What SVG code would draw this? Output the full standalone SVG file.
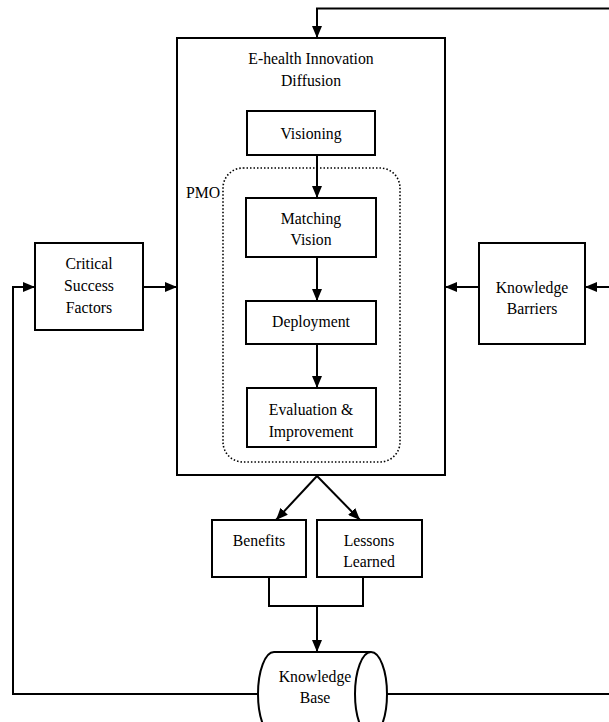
<svg xmlns="http://www.w3.org/2000/svg" width="609" height="722" viewBox="0 0 609 722">
<style>
.box{fill:#fff;stroke:#000;stroke-width:2}
.ln{fill:none;stroke:#000;stroke-width:2}
.t{font-family:"Liberation Serif","Times New Roman",serif;font-size:17.5px;fill:#000;text-anchor:middle}
.pmo{fill:none;stroke:#000;stroke-width:1.6;stroke-dasharray:1.5 2}
</style>
<defs>
<marker id="arr" markerUnits="userSpaceOnUse" markerWidth="12" markerHeight="10" refX="12" refY="5" orient="auto">
<path d="M0,0 L12,5 L0,10 z" fill="#000"/>
</marker>
</defs>
<rect width="609" height="722" fill="#fff"/>
<g id="main">
<rect class="box" x="177" y="38" width="268" height="437"/>
<text class="t" transform="translate(311,64) scale(0.9,1)"><tspan x="0" y="0">E-health Innovation</tspan><tspan x="0" y="22">Diffusion</tspan></text>
</g>
<g id="pmo">
<rect class="pmo" x="223" y="168" width="177" height="294" rx="20"/>
<text class="t" transform="translate(203,198) scale(0.9,1)">PMO</text>
</g>
<g id="visioning">
<rect class="box" x="247" y="111" width="128" height="44"/>
<text class="t" transform="translate(311,139) scale(0.9,1)">Visioning</text>
</g>
<g id="matching">
<rect class="box" x="246" y="198" width="130" height="59"/>
<text class="t" transform="translate(311,224) scale(0.9,1)"><tspan x="0" y="0">Matching</tspan><tspan x="0" y="21">Vision</tspan></text>
</g>
<g id="deployment">
<rect class="box" x="246" y="301" width="130" height="43"/>
<text class="t" transform="translate(311,327) scale(0.9,1)">Deployment</text>
</g>
<g id="evaluation">
<rect class="box" x="247" y="388" width="129" height="59"/>
<text class="t" transform="translate(311,415) scale(0.9,1)"><tspan x="0" y="0">Evaluation &amp;</tspan><tspan x="0" y="22">Improvement</tspan></text>
</g>
<g id="csf">
<rect class="box" x="35" y="243" width="108" height="87"/>
<text class="t" transform="translate(89,269) scale(0.9,1)"><tspan x="0" y="0">Critical</tspan><tspan x="0" y="22">Success</tspan><tspan x="0" y="44">Factors</tspan></text>
</g>
<g id="barriers">
<rect class="box" x="479" y="243" width="106" height="101"/>
<text class="t" transform="translate(532,293) scale(0.9,1)"><tspan x="0" y="0">Knowledge</tspan><tspan x="0" y="21">Barriers</tspan></text>
</g>
<g id="benefits">
<rect class="box" x="212" y="520" width="94" height="57"/>
<text class="t" transform="translate(259,546) scale(0.9,1)">Benefits</text>
</g>
<g id="lessons">
<rect class="box" x="317" y="520" width="105" height="57"/>
<text class="t" transform="translate(369,546) scale(0.9,1)"><tspan x="0" y="0">Lessons</tspan><tspan x="0" y="21">Learned</tspan></text>
</g>
<g id="connectors">
<polyline class="ln" points="609,8.5 317,8.5 317,38" marker-end="url(#arr)"/>
<line class="ln" x1="317" y1="155" x2="317" y2="198" marker-end="url(#arr)"/>
<line class="ln" x1="317" y1="257" x2="317" y2="301" marker-end="url(#arr)"/>
<line class="ln" x1="317" y1="344" x2="317" y2="388" marker-end="url(#arr)"/>
<line class="ln" x1="143" y1="287" x2="177" y2="287" marker-end="url(#arr)"/>
<line class="ln" x1="479" y1="287" x2="445" y2="287" marker-end="url(#arr)"/>
<line class="ln" x1="609" y1="287" x2="585" y2="287" marker-end="url(#arr)"/>
<polyline class="ln" points="258,694 13,694 13,287 35,287" marker-end="url(#arr)"/>
<line class="ln" x1="387" y1="694" x2="609" y2="694"/>
<line class="ln" x1="317" y1="476" x2="276" y2="520" marker-end="url(#arr)"/>
<line class="ln" x1="317" y1="476" x2="360" y2="520" marker-end="url(#arr)"/>
<polyline class="ln" points="269,577 269,606 363,606 363,577"/>
<line class="ln" x1="317" y1="606" x2="317" y2="652" marker-end="url(#arr)"/>
</g>
<g id="knowledge-base">
<path class="box" d="M371,652 L274,652 A16,42 0 0 0 274,736 L371,736"/>
<ellipse class="box" cx="371" cy="694" rx="16" ry="42"/>
<text class="t" transform="translate(315,682) scale(0.9,1)"><tspan x="0" y="0">Knowledge</tspan><tspan x="0" y="21">Base</tspan></text>
</g>
</svg>
